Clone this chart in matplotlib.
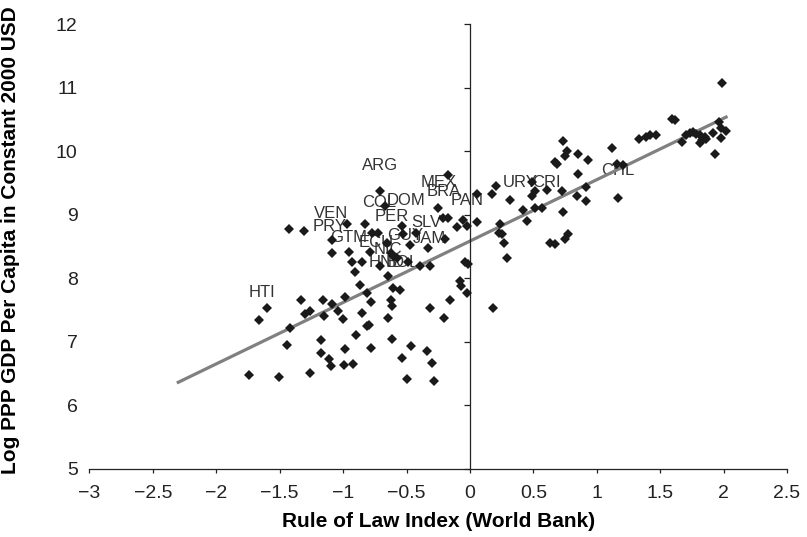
import matplotlib.pyplot as plt
import numpy as np

plt.rcParams['font.family'] = ['Liberation Sans', 'DejaVu Sans']

# World Bank rule of law index and log PPP GDP per capita, one entry per country
rule_of_law = [
    1.99, 1.59, 1.615, 1.334, 1.392, 1.418, 1.471, 1.117, 1.156, 1.208,
    1.164, 1.673, 1.702, 1.734, 1.760, 1.786, 1.812, 1.826, 1.852, 1.865,
    1.812, 1.917, 1.965, 1.983, 2.017, 1.978, 1.931,
    0.735, 0.767, 0.749, 0.853, 0.932, 0.670, 0.688, 0.853, 0.912, 0.846,
    0.912, 0.730, 0.722, 0.604, 0.486, 0.486, 0.512, 0.512, 0.565, 0.420,
    0.453, 0.315, 0.205, 0.171, 0.059, 0.236, 0.231, 0.252, 0.270, 0.294,
    0.630, 0.670, 0.749, 0.770, 0.053, 0.179,
    -0.197, -0.105, -0.053, -0.026, -0.039, -0.013, -0.079, -0.067, -0.020,
    -0.158, -0.315, -0.203, -0.465, -0.339, -0.297, -0.496, -0.286, -0.538,
    -0.171, -0.255, -0.210, -0.171, -0.709, -0.670, -0.538, -0.526, -0.426,
    -0.473, -0.329, -0.315, -0.394, -0.489, -0.604, -0.575, -0.709, -0.644,
    -0.604, -0.552, -0.867, -0.906, -0.932, -0.854, -0.788, -0.951, -1.087,
    -1.090, -0.654, -0.625, -0.775, -0.722, -0.827, -0.972, -1.308, -1.424,
    -0.814, -0.985, -0.783, -0.625, -0.612, -1.332, -1.156, -1.090, -1.038,
    -0.998, -1.597, -1.660, -1.300, -1.261, -1.148, -0.854, -0.644, -1.418,
    -0.814, -0.793, -0.898, -1.177, -0.617, -1.440, -0.780, -0.985, -1.174,
    -1.113, -1.098, -0.993, -0.920, -1.742, -1.503, -1.261,
]
log_gdp = [
    11.07, 10.51, 10.50, 10.19, 10.22, 10.25, 10.26, 10.05, 9.80, 9.78,
    9.26, 10.14, 10.25, 10.29, 10.30, 10.27, 10.25, 10.17, 10.22, 10.20,
    10.13, 10.28, 10.46, 10.36, 10.32, 10.21, 9.96,
    10.16, 10.01, 9.92, 9.96, 9.87, 9.83, 9.80, 9.64, 9.44, 9.30,
    9.22, 9.05, 9.38, 9.39, 9.51, 9.30, 9.38, 9.10, 9.11, 9.08,
    8.90, 9.24, 9.45, 9.32, 9.32, 8.86, 8.72, 8.69, 8.56, 8.32,
    8.56, 8.54, 8.62, 8.70, 8.88, 7.53,
    8.62, 8.80, 8.92, 8.83, 8.25, 8.22, 7.96, 7.88, 7.77,
    7.65, 7.53, 7.38, 6.94, 6.85, 6.67, 6.41, 6.38, 6.75,
    9.62, 9.10, 8.95, 8.95, 9.37, 9.14, 8.83, 8.69, 8.71,
    8.52, 8.47, 8.19, 8.19, 8.26, 8.35, 8.32, 8.19, 8.03,
    7.84, 7.81, 7.90, 8.10, 8.25, 8.25, 8.41, 8.41, 8.40,
    8.60, 8.56, 8.40, 8.72, 8.72, 8.85, 8.85, 8.75, 8.77,
    7.77, 7.70, 7.62, 7.65, 7.57, 7.66, 7.66, 7.60, 7.49,
    7.36, 7.53, 7.34, 7.44, 7.48, 7.41, 7.45, 7.38, 7.21,
    7.25, 7.27, 7.11, 7.02, 7.04, 6.95, 6.90, 6.88, 6.82,
    6.72, 6.61, 6.63, 6.65, 6.48, 6.44, 6.50,
]

# Latin American country codes and where their labels sit
country_codes = ['ARG', 'MEX', 'BRA', 'COL', 'DOM', 'PAN', 'VEN', 'PRY', 'PER',
                 'SLV', 'GTM', 'ECU', 'GUY', 'JAM', 'NIC', 'HND', 'BOL',
                 'URY', 'CRI', 'CHL', 'HTI']
code_x = [-0.709, -0.25, -0.21, -0.715, -0.508, -0.026, -1.094, -1.103, -0.617,
          -0.344, -0.96, -0.738, -0.512, -0.323, -0.65, -0.656, -0.536,
          0.394, 0.60, 1.169, -1.642]
code_y = [9.77, 9.51, 9.37, 9.19, 9.23, 9.22, 9.02, 8.81, 8.97,
          8.88, 8.64, 8.57, 8.68, 8.63, 8.45, 8.25, 8.24,
          9.50, 9.50, 9.70, 7.77]

# least squares line
fit_intercept = 8.585
fit_slope = 0.967
fit_span = [-2.3, 2.02]

x_ticks = [-3, -2.5, -2, -1.5, -1, -0.5, 0, 0.5, 1, 1.5, 2, 2.5]
x_ticklabels = ['\u22123', '\u22122.5', '\u22122', '\u22121.5', '\u22121', '\u22120.5',
                '0', '0.5', '1', '1.5', '2', '2.5']
y_ticks = [5, 6, 7, 8, 9, 10, 11, 12]

fig = plt.figure(figsize=(8.07, 5.37), dpi=100)
ax = fig.add_axes([0.1109, 0.1272, 0.8643, 0.8276])

ax.plot(rule_of_law, log_gdp, 'D', color='#1a1a1a', ms=5.6, mew=0, zorder=3)
fx = np.array(fit_span)
ax.plot(fx, fit_intercept + fit_slope * fx, color='#808080', lw=2.3, zorder=2.5)

for code, lx, ly in zip(country_codes, code_x, code_y):
    ax.text(lx, ly, code, ha='center', va='center', fontsize=12,
            color='#333333', zorder=2)

ax.set_xlim(-3, 2.5)
ax.set_ylim(5, 12)
ax.set_xticks(x_ticks)
ax.set_xticklabels(x_ticklabels)
ax.set_yticks(y_ticks)

# vertical axis crosses at zero, its numbers stay on the far left
ax.spines['left'].set_position(('data', 0))
ax.spines['top'].set_visible(False)
ax.spines['right'].set_visible(False)
for s in ('left', 'bottom'):
    ax.spines[s].set_linewidth(0.9)
    ax.spines[s].set_color('#222222')
ax.tick_params(axis='y', labelleft=False, direction='out', length=4.3, width=0.9,
               color='#222222')
ax.tick_params(axis='x', direction='out', length=3, width=0.9, color='#222222',
               labelsize=14, pad=9, labelcolor='#222222')

sec = ax.secondary_yaxis('left')
sec.set_yticks(y_ticks)
sec.set_yticklabels([str(v) for v in y_ticks])
for s in sec.spines.values():
    s.set_visible(False)
sec.tick_params(length=0, pad=8.5, labelsize=14, labelcolor='#222222')

ax.set_ylabel('Log PPP GDP Per Capita in Constant 2000 USD', fontsize=15,
              fontweight='bold')
ax.yaxis.set_label_coords(-0.100, 0.514)

ax.set_xlabel('Rule of Law Index (World Bank)', fontsize=15, fontweight='bold',
              labelpad=7)

fig.savefig('out.png', dpi=100)
